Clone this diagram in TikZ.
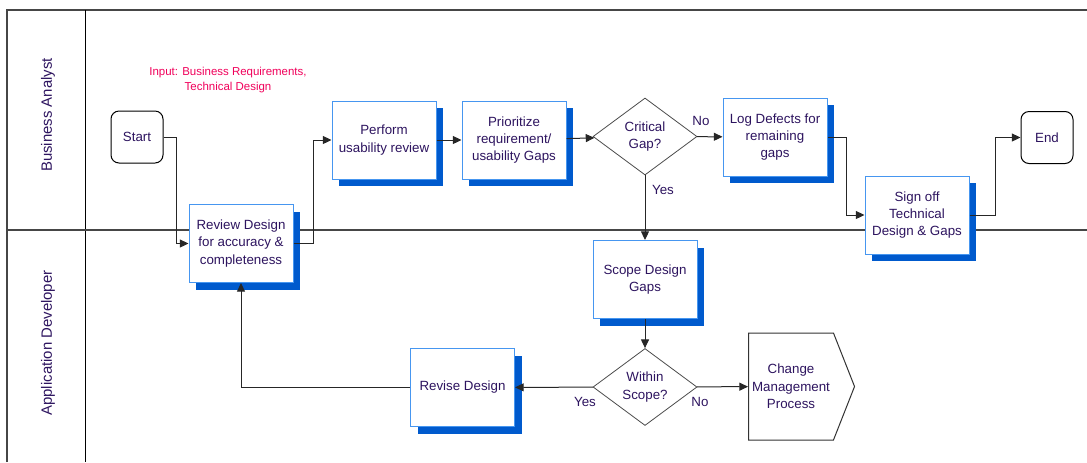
\documentclass[tikz,border=0pt]{standalone}
\usepackage{fontspec}
\setmainfont{Liberation Sans}
\usetikzlibrary{shapes.geometric,shapes.symbols,shadows,arrows.meta}

\definecolor{boxline}{RGB}{70,150,240}
\definecolor{boxshadow}{RGB}{0,90,205}
\definecolor{txt}{RGB}{45,20,95}
\definecolor{inputred}{RGB}{240,0,90}
\definecolor{lane}{RGB}{70,70,70}

\begin{document}
\begin{tikzpicture}[x=0.75pt,y=-0.75pt,
  every node/.style={text=txt, font=\fontsize{10}{13}\selectfont},
  task/.style={draw=boxline, fill=white, line width=0.75pt, inner sep=0pt,
    minimum width=78pt, minimum height=58.5pt, align=center,
    general shadow={fill=boxshadow, draw=none, shadow xshift=5.25pt, shadow yshift=-5.25pt}},
  term/.style={draw=black, fill=white, line width=0.75pt, rounded corners=6pt,
    minimum width=39pt, minimum height=39pt, inner sep=0pt},
  decision/.style={diamond, draw=black!70, fill=white, line width=0.6pt, inner sep=0pt,
    minimum width=78pt, minimum height=57.75pt, align=center},
  flow/.style={draw=black!85, line width=0.75pt, -{Triangle[length=6.5pt,width=6pt]}},
  answer/.style={inner sep=0pt}]
  \useasboundingbox (0,0) rectangle (1087,462);

  % lanes
  \draw[lane, line width=1.1pt] (7,462) -- (7,10) -- (1087,10);
  \draw[black, line width=0.75pt] (85,10) -- (85,462);
  \draw[lane, line width=1.1pt] (7,230) -- (1087,230);
  \node[rotate=90, font=\fontsize{11.2}{13}\selectfont] (ba) at (48,115) {Business Analyst};
  \node[rotate=90, font=\fontsize{11.2}{13}\selectfont] (ad) at (48,343) {Application Developer};

  \node[text=inputred, align=center, font=\fontsize{8.6}{11.3}\selectfont] (input) at (228,80)
    {Input: Business Requirements,\\Technical Design};

  % business analyst
  \node[term] (start) at (137,137) {Start};
  \node[task] (review) at (241,243.5) {Review Design\\for accuracy \&\\completeness};
  \node[task] (perform) at (384,140) {Perform\\usability review};
  \node[task] (prioritize) at (514,140) {Prioritize\\requirement/\\usability Gaps};
  \node[decision] (critical) at (645,136.5) {Critical\\Gap?};
  \node[task] (logdefects) at (775,137) {Log Defects for\\remaining\\gaps};
  \node[task] (signoff) at (917,215) {Sign off\\Technical\\Design \& Gaps};
  \node[term] (end) at (1047,137.5) {End};

  % application developer
  \node[task] (scope) at (645,279.5) {Scope Design\\Gaps};
  \node[decision] (within) at (645,387) {Within\\Scope?};
  \node[task] (revise) at (462.5,387.5) {Revise Design};
  \node[signal, signal to=east, signal pointer angle=137, draw=black!80, fill=white,
    line width=0.75pt, inner sep=0pt, minimum width=79.5pt, minimum height=80.25pt,
    align=center] (change) at (791,386.5) {Change\\Management\\Process};

  \draw[flow] (start.east) -- ++(13,0) |- (review.west);
  \draw[flow] (review.east) -- ++(20,0) |- (perform.west);
  \draw[flow] (perform) -- (prioritize);
  \draw[flow] (prioritize) -- (critical);
  \draw[flow] (critical) -- (logdefects);
  \draw[flow] (critical) -- (scope);
  \draw[flow] (logdefects.east) -- ++(19,0) |- (signoff.west);
  \draw[flow] (signoff.east) -- ++(26,0) |- (end.west);
  \draw[flow] (scope) -- (within);
  \draw[flow] (within) -- (revise);
  \draw[flow] (within) -- (change);
  \draw[flow] (revise.west) -| (review.south);

  \node[answer] (critno) at (701,121) {No};
  \node[answer] (crityes) at (663,190) {Yes};
  \node[answer] (withinyes) at (585,402) {Yes};
  \node[answer] (withinno) at (700,402) {No};
\end{tikzpicture}
\end{document}
